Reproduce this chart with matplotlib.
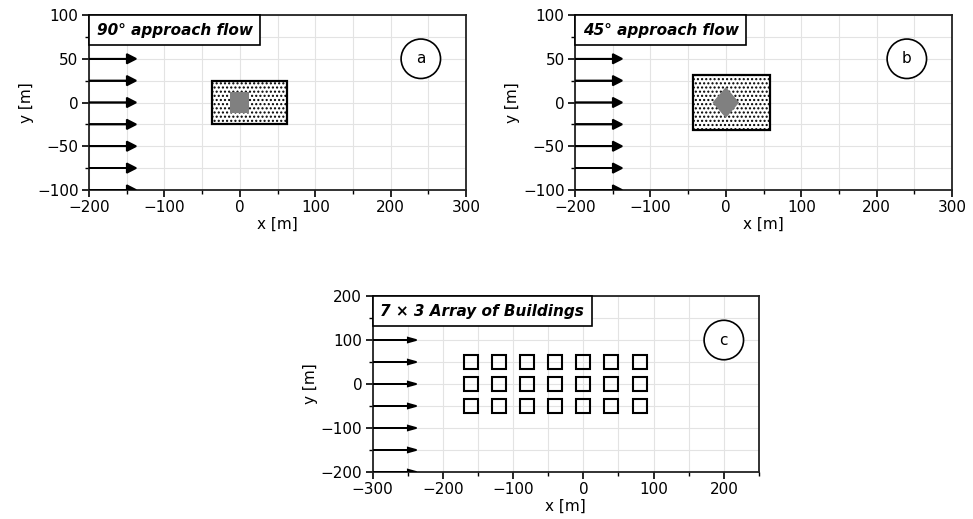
import numpy as np
import matplotlib
matplotlib.use("Agg")
import matplotlib.pyplot as plt
from matplotlib.patches import Rectangle, Polygon
from matplotlib.offsetbox import AnchoredText
from matplotlib.ticker import MultipleLocator


# panel titles / letters
titles = ["90° approach flow", "45° approach flow", "7 × 3 Array of Buildings"]
letters = ["a", "b", "c"]
letter_pos = [(240, 50), (240, 50), (200, 100)]

# axis limits
xlims = [(-200, 300), (-200, 300), (-300, 250)]
ylims = [(-100, 100), (-100, 100), (-200, 200)]
ymajor = [50, 50, 100]
yminor = [25, 25, 50]

# inflow arrows (start x, y positions)
arrow_x0 = [-200, -200, -300]
arrow_y_ab = [100, 75, 50, 25, 0, -25, -50, -75, -100]
arrow_y_c = [200, 150, 100, 50, 0, -50, -100, -150, -200]
arrow_len = 50

# hatched source areas (x0, y0, w, h)
area_a = (-37.5, -25, 100, 50)
area_b = (-43, -31, 102, 62)

# single building: 25 m square, 45 deg rotated in b
bld_size = 25
bld_angle = [0, 45]

# building array centres
array_x = [-160, -120, -80, -40, 0, 40, 80]
array_y = [50, 0, -50]

FS = 11


def style_axes(ax, i):
    ax.set_xlim(*xlims[i])
    ax.set_ylim(*ylims[i])
    ax.xaxis.set_major_locator(MultipleLocator(100))
    ax.xaxis.set_minor_locator(MultipleLocator(50))
    ax.yaxis.set_major_locator(MultipleLocator(ymajor[i]))
    ax.yaxis.set_minor_locator(MultipleLocator(yminor[i]))
    ax.grid(True, which="both", color="#e3e3e3", lw=0.8)
    ax.set_axisbelow(True)
    ax.tick_params(which="major", length=5, width=1.2, labelsize=FS, pad=2.5)
    ax.tick_params(which="minor", length=3, width=1.0)
    for s in ax.spines.values():
        s.set_linewidth(1.3)
        s.set_color("#222222")
    ax.set_xlabel("x [m]", fontsize=FS, labelpad=1)
    ax.set_ylabel("y [m]", fontsize=FS, labelpad=2)

    at = AnchoredText(titles[i], loc="upper left", borderpad=0, pad=0.5,
                      prop=dict(fontweight="bold", fontstyle="italic", size=FS))
    at.patch.set_linewidth(1.2)
    at.zorder = 10
    ax.add_artist(at)

    ax.text(*letter_pos[i], letters[i], ha="center", va="center", fontsize=FS,
            bbox=dict(boxstyle="circle,pad=0.8", fc="white", ec="k", lw=1.2),
            zorder=6)

    ys = arrow_y_c if i == 2 else arrow_y_ab
    for y in ys:
        ax.arrow(arrow_x0[i], y, arrow_len, 0, head_width=11, head_length=12.5,
                 fc="k", ec="k", lw=1.2, zorder=4)


def building(ax, angle):
    h = bld_size / 2
    corners = np.array([[-h, -h], [h, -h], [h, h], [-h, h]])
    t = np.deg2rad(angle)
    rot = np.array([[np.cos(t), -np.sin(t)], [np.sin(t), np.cos(t)]])
    pts = corners @ rot.T
    ax.add_patch(Polygon(pts, closed=True, fc="#808080", ec="none", zorder=5))


fig = plt.figure(figsize=(9.73, 5.19), dpi=100)
ax_a = fig.add_axes([0.0915, 0.634, 0.3875, 0.337])
ax_b = fig.add_axes([0.591, 0.634, 0.3875, 0.337])
ax_c = fig.add_axes([0.383, 0.0906, 0.397, 0.339])

for i, ax in enumerate([ax_a, ax_b, ax_c]):
    style_axes(ax, i)

for ax, area, ang in [(ax_a, area_a, bld_angle[0]), (ax_b, area_b, bld_angle[1])]:
    ax.add_patch(Rectangle(area[:2], area[2], area[3], fc="white", ec="k",
                           hatch="....", lw=1.6, zorder=3))
    building(ax, ang)

bx, by = np.meshgrid(array_x, array_y)
ax_c.plot(bx.ravel(), by.ravel(), ls="none", marker="s", ms=10, mfc="none",
          mec="k", mew=1.5, zorder=5)

fig.savefig("out.png", dpi=100)
